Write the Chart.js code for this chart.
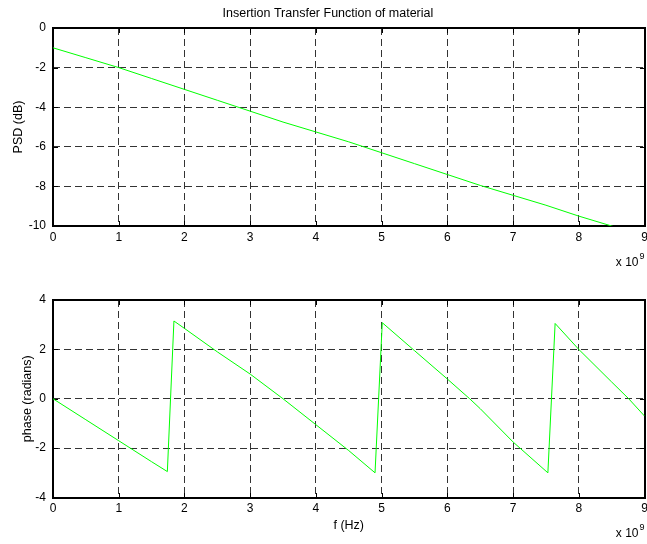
<!DOCTYPE html>
<html>
<head>
<meta charset="utf-8">
<script src="https://cdn.jsdelivr.net/npm/chart.js@4.4.0/dist/chart.umd.min.js"></script>
<style>
    html, body { margin: 0; padding: 0; background: #fff; overflow: hidden; }
    #wrap { position: relative; width: 647px; height: 544px; overflow: hidden; }
    canvas { position: absolute; left: 0; }
    #magChart { top: 0; }
    #phaseChart { top: 270px; }
</style>
</head>
<body>
<div id="wrap">
    <canvas id="magChart" width="700" height="270"></canvas>
    <canvas id="phaseChart" width="700" height="274"></canvas>
</div>
<script>
// frequency values are in units of 1e9 Hz (axis shows "x 10^9")
const magFreq = [0, 0.5, 1, 1.5, 2, 2.5, 3, 3.5, 4, 4.5, 5, 5.5, 6, 6.5, 7, 7.5, 8, 8.5, 9];
const magPsd = [-1.0, -1.5, -2.0, -2.55, -3.1, -3.65, -4.2, -4.75, -5.25, -5.75, -6.3, -6.85, -7.4, -7.95, -8.45, -8.95, -9.5, -10.0, -10.55];

const phaseFreq = [0, 0.5, 1, 1.5, 1.74, 1.84, 2, 2.5, 3, 3.5, 4, 4.5, 4.9, 5.01, 5.5, 6, 6.34, 6.5, 7, 7.53, 7.64, 8, 8.5, 8.76, 9];
const phaseRad = [0, -0.85, -1.7, -2.55, -2.95, 3.15, 2.85, 1.9, 1.0, 0.0, -1.05, -2.1, -3.0, 3.08, 1.95, 0.8, 0.0, -0.4, -1.75, -3.0, 3.05, 2.0, 0.68, 0.0, -0.7];

const freqTicks = [0, 1, 2, 3, 4, 5, 6, 7, 8, 9];
const psdTicks = [-10, -8, -6, -4, -2, 0];
const phaseTicks = [-4, -2, 0, 2, 4];

const FONT = 'Liberation Sans, Arial, sans-serif';
const GREEN = '#00ff00';

// MATLAB style box: solid frame plus short inward ticks on all four sides
const matlabBox = {
    id: 'matlabBox',
    beforeDatasetsDraw(chart) {
        const { ctx, chartArea: a, scales } = chart;
        const L = Math.round(a.left), R = Math.round(a.right);
        const T = Math.round(a.top), B = Math.round(a.bottom);
        const len = 5;
        ctx.save();
        ctx.strokeStyle = '#000';
        ctx.setLineDash([]);
        ctx.lineWidth = 1;
        ctx.beginPath();
        scales.x.ticks.forEach(t => {
            const px = Math.round(scales.x.getPixelForValue(t.value)) + 0.5;
            ctx.moveTo(px, B); ctx.lineTo(px, B - len);
            ctx.moveTo(px, T); ctx.lineTo(px, T + len);
        });
        scales.y.ticks.forEach(t => {
            const py = Math.round(scales.y.getPixelForValue(t.value)) + 0.5;
            ctx.moveTo(L, py); ctx.lineTo(L + len, py);
            ctx.moveTo(R, py); ctx.lineTo(R - len, py);
        });
        ctx.stroke();
        ctx.lineWidth = 2;
        ctx.strokeRect(L, T, R - L, B - T);
        ctx.restore();
    },
    afterDraw(chart) {
        // exponent label under the right end of the x axis
        const { ctx, chartArea: a } = chart;
        const base = a.bottom + 39.5;
        ctx.save();
        ctx.fillStyle = '#000';
        ctx.textBaseline = 'alphabetic';
        ctx.font = '12px ' + FONT;
        ctx.textAlign = 'right';
        ctx.fillText('x 10', a.right - 6, base);
        ctx.font = '9px ' + FONT;
        ctx.textAlign = 'left';
        ctx.fillText('9', a.right - 5, base - 7);
        ctx.restore();
    }
};

function makeChart(id, xs, ys, yTicks, opts) {
    return new Chart(document.getElementById(id), {
        type: 'line',
        data: {
            datasets: [{
                data: xs.map((x, i) => ({ x: x, y: ys[i] })),
                borderColor: GREEN,
                borderWidth: 1,
                pointRadius: 0,
                tension: 0,
                fill: false
            }]
        },
        options: {
            responsive: false,
            animation: false,
            events: [],
            layout: { padding: opts.padding },
            plugins: {
                legend: { display: false },
                tooltip: { enabled: false },
                title: opts.title
            },
            scales: {
                x: {
                    type: 'linear',
                    min: freqTicks[0],
                    max: freqTicks[freqTicks.length - 1],
                    afterBuildTicks: s => { s.ticks = freqTicks.map(v => ({ value: v })); },
                    afterFit: s => { s.height = opts.xHeight; },
                    grid: { color: '#333', lineWidth: 1, drawTicks: false },
                    border: { display: false, dash: [7, 4] },
                    ticks: { color: '#000', font: { family: FONT, size: 12 }, padding: 4, maxRotation: 0 },
                    title: opts.xTitle
                },
                y: {
                    min: yTicks[0],
                    max: yTicks[yTicks.length - 1],
                    afterBuildTicks: s => { s.ticks = yTicks.map(v => ({ value: v })); },
                    afterFit: s => { s.width = opts.yWidth; },
                    grid: { color: '#333', lineWidth: 1, drawTicks: false },
                    border: { display: false, dash: [7, 4] },
                    ticks: { color: '#000', font: { family: FONT, size: 12 }, padding: 7 },
                    title: {
                        display: true,
                        text: opts.yTitle,
                        color: '#000',
                        font: { family: FONT, size: 12.5 },
                        padding: 0
                    }
                }
            }
        },
        plugins: [matlabBox]
    });
}

makeChart('magChart', magFreq, magPsd, psdTicks, {
    padding: { left: 11.3, right: 55.5, top: 0, bottom: 0 },
    yWidth: 41.7,
    xHeight: 44,
    yTitle: 'PSD (dB)',
    xTitle: { display: false },
    title: {
        display: true,
        text: 'Insertion Transfer Function of material',
        color: '#000',
        font: { family: FONT, size: 12.5, weight: 'normal' },
        padding: { top: 6.5, bottom: 6.5 }
    }
});

makeChart('phaseChart', phaseFreq, phaseRad, phaseTicks, {
    padding: { left: 20.3, right: 55.5, top: 30, bottom: 10.8 },
    yWidth: 32.7,
    xHeight: 35.7,
    yTitle: 'phase (radians)',
    xTitle: {
        display: true,
        text: 'f (Hz)',
        color: '#000',
        font: { family: FONT, size: 12.5 },
        padding: 0
    },
    title: { display: false }
});
</script>
</body>
</html>
